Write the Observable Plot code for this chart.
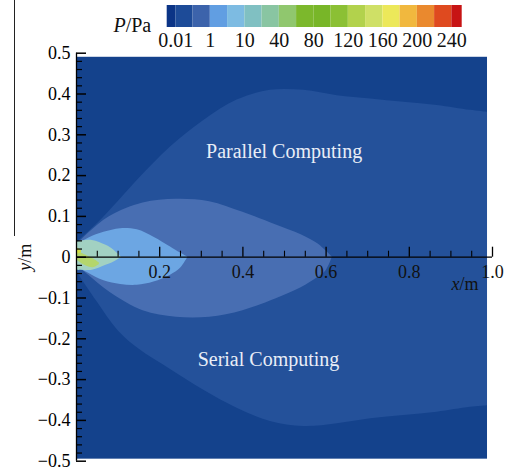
<!DOCTYPE html>
<html><head><meta charset="utf-8">
<script src="https://cdn.jsdelivr.net/npm/d3@7"></script>
<script src="https://cdn.jsdelivr.net/npm/@observablehq/plot@0.6"></script>
<style>
body{margin:0;background:#fff;}
#wrap{position:relative;width:516px;height:473px;overflow:hidden;background:#fff;}
#wrap svg{position:absolute;left:0;top:0;}
svg.legendsvg{background:transparent !important;}
.edge{position:absolute;left:13.5px;top:0;width:1.3px;height:236px;background:#222;z-index:5;}
</style></head><body><div id="wrap"><div class="edge"></div></div>
<script>
// ---- colour bar (P/Pa) ----
const levels = [0.01, 0.1, 1, 5, 10, 20, 40, 60, 80, 100, 120, 140, 160, 180, 200, 220, 240];
const levelLabels = ["0.01", "1", "10", "40", "80", "120", "160", "200", "240"];
const legendColors = ["#0b3486", "#1d4b98", "#3c63ab", "#619ee2", "#7dbbe2", "#80c0c2", "#89c5a2", "#90c76e",
  "#7cb82c", "#78b628", "#8bc034", "#b2d24c", "#cfe066", "#ece85a", "#f1b83e", "#ea892e", "#df4a1f", "#c71414"];

// ---- axes ----
const xTickValues = [0.2, 0.4, 0.6, 0.8, 1.0];
const xTickLabels = ["0.2", "0.4", "0.6", "0.8", "1.0"];
const yTickValues = [0.5, 0.4, 0.3, 0.2, 0.1, 0, -0.1, -0.2, -0.3, -0.4, -0.5];
const yTickLabels = ["0.5", "0.4", "0.3", "0.2", "0.1", "0", "\u22120.1", "\u22120.2", "\u22120.3", "\u22120.4", "\u22120.5"];

// ---- computed field extent ----
const fieldX = [0, 0.988];
const fieldY = [-0.495, 0.49];

// ---- contour bands (upper = Parallel Computing, lower = Serial Computing) ----
const band2X     = [0, 0.05, 0.10, 0.15, 0.226, 0.306, 0.386, 0.466, 0.546, 0.627, 0.707, 0.787, 0.867, 0.947, 0.988];
const band2Upper = [0.035, 0.082, 0.136, 0.192, 0.27, 0.335, 0.385, 0.409, 0.409, 0.396, 0.388, 0.38, 0.372, 0.36, 0.355];
const band2Lower = [-0.035, -0.11, -0.18, -0.225, -0.275, -0.326, -0.37, -0.403, -0.415, -0.408, -0.396, -0.388, -0.38, -0.368, -0.364];

const band3X     = [0, 0.03, 0.08, 0.16, 0.24, 0.32, 0.40, 0.48, 0.54, 0.58, 0.60, 0.615];
const band3Upper = [0.03, 0.06, 0.10, 0.133, 0.142, 0.136, 0.11, 0.079, 0.055, 0.033, 0.015, 0];
const band3Lower = [-0.02, -0.045, -0.086, -0.131, -0.147, -0.147, -0.131, -0.102, -0.075, -0.05, -0.033, 0];

const band4X     = [0, 0.03, 0.066, 0.106, 0.146, 0.186, 0.226, 0.25, 0.268];
const band4Upper = [0.029, 0.047, 0.061, 0.07, 0.067, 0.049, 0.025, 0.01, 0];
const band4Lower = [-0.024, -0.04, -0.058, -0.067, -0.069, -0.061, -0.044, -0.027, 0];

const band5X     = [0, 0.038, 0.071, 0.09, 0.108];
const band5Upper = [0.037, 0.041, 0.029, 0.017, 0];
const band5Lower = [-0.032, -0.032, -0.02, -0.012, 0];

const band6X     = [0, 0.02, 0.04, 0.055];
const band6Upper = [0.015, 0.006, -0.004, -0.014];
const band6Lower = [-0.006, -0.02, -0.026, -0.018];

const band7X     = [0, 0.012];
const band7Upper = [0.024, 0.016];
const band7Lower = [0.008, 0.01];

const bandColors = ["#14428c", "#24519a", "#486eb2", "#6ca6e3", "#a2d1c2", "#b4d66c", "#d2de44"];

const toRows = (xs, up, lo) => xs.map((x, i) => ({x, y1: lo[i], y2: up[i]}));
const bands = [
  toRows(band2X, band2Upper, band2Lower),
  toRows(band3X, band3Upper, band3Lower),
  toRows(band4X, band4Upper, band4Lower),
  toRows(band5X, band5Upper, band5Lower),
  toRows(band6X, band6Upper, band6Lower),
  toRows(band7X, band7Upper, band7Lower)
];

const W = 516, H = 473, ML = 76, MR = 24, MT = 52.7, MB = 12.3;
const frameW = W - ML - MR, frameH = H - MT - MB;
const y0px = frameH / 2;
const serif = "'Liberation Serif', 'Times New Roman', serif";

const xMinor = d3.range(0.05, 1.0001, 0.05).filter(v => xTickValues.every(t => Math.abs(t - v) > 1e-6));
const yMinor = d3.range(-0.5, 0.5001, 0.02).filter(v => yTickValues.every(t => Math.abs(t - v) > 1e-6));

const main = Plot.plot({
  width: W, height: H,
  marginLeft: ML, marginRight: MR, marginTop: MT, marginBottom: MB,
  style: {fontFamily: serif, fontSize: "18px", background: "white"},
  x: {domain: [0, 1], axis: null},
  y: {domain: [-0.5, 0.5], axis: null},
  marks: [
    Plot.rect([0], {x1: () => fieldX[0], x2: () => fieldX[1], y1: () => fieldY[0], y2: () => fieldY[1], fill: bandColors[0]}),
    ...bands.map((rows, k) => Plot.areaY(rows, {x: "x", y1: "y1", y2: "y2", fill: bandColors[k + 1], curve: "catmull-rom"})),
    Plot.text(["Parallel Computing"], {x: () => 0.499, y: () => 0.259, fill: "#e9eef7", fontSize: 20}),
    Plot.text(["Serial Computing"], {x: () => 0.4615, y: () => -0.251, fill: "#e9eef7", fontSize: 20}),
    // axis lines
    Plot.ruleX([0], {stroke: "black", strokeWidth: 1.3}),
    Plot.ruleY([0], {stroke: "black", strokeWidth: 1.3}),
    // y ticks (inward)
    Plot.tickY(yTickValues, {y: d => d, stroke: "black", strokeWidth: 1.5, insetRight: frameW - 10}),
    Plot.tickY(yMinor, {y: d => d, stroke: "black", strokeWidth: 1.2, insetRight: frameW - 6}),
    // x ticks (upward from y = 0)
    Plot.tickX(xTickValues, {x: d => d, stroke: "black", strokeWidth: 1.3, insetTop: y0px - 10, insetBottom: frameH - y0px}),
    Plot.tickX(xMinor, {x: d => d, stroke: "black", strokeWidth: 1.1, insetTop: y0px - 6, insetBottom: frameH - y0px}),
    // tick labels
    Plot.text(yTickValues, {y: d => d, frameAnchor: "left", dx: -6, textAnchor: "end", text: (d, i) => yTickLabels[i], fill: "black", fontSize: 18}),
    Plot.text(xTickValues, {x: d => d, y: () => 0, dy: 15, text: (d, i) => xTickLabels[i], fill: "#111", fontSize: 18}),
    Plot.text(["x/m"], {x: () => 1, y: () => 0, dx: -14, dy: 27, textAnchor: "end", fill: "#111", fontSize: 18}),
    Plot.text(["y/m"], {x: () => 0, y: () => 0, dx: -51, rotate: -90, fill: "#111", fontSize: 18})
  ]
});

const cells = legendColors.map((c, i) => ({i, color: c}));
const labelRows = levelLabels.map((t, j) => ({k: 2 * j, label: t, value: levels[2 * j]}));
const legend = Plot.plot({
  width: W, height: 50,
  marginLeft: 166.7, marginRight: 54.3, marginTop: 5, marginBottom: 23,
  style: {fontFamily: serif, fontSize: "20px", background: "transparent"},
  x: {domain: [-0.5, 16.6], axis: null},
  y: {domain: [0, 1], axis: null},
  marks: [
    Plot.rect(cells, {x1: d => d.i === 0 ? -0.5 : d.i - 1, x2: d => d.i === 17 ? 16.6 : d.i, y1: () => 0, y2: () => 1, fill: d => d.color}),
    Plot.text(labelRows, {x: "k", y: () => 0, dy: 13, text: "label", fill: "#111", fontSize: 20}),
    Plot.text(["P/Pa"], {x: () => -0.5, y: () => 0.1, dx: -16, textAnchor: "end", fill: "#111", fontSize: 20})
  ]
});
legend.classList.add("legendsvg");

function italicize(svg) {
  d3.select(svg).selectAll("text").each(function () {
    const t = this.textContent;
    if (t === "P/Pa" || t === "x/m" || t === "y/m") {
      const sel = d3.select(this);
      sel.text(null);
      sel.append("tspan").attr("font-style", "italic").text(t[0]);
      sel.append("tspan").text(t.slice(1));
    }
  });
}
italicize(main); italicize(legend);

const wrap = document.getElementById("wrap");
wrap.appendChild(main);
wrap.appendChild(legend);
</script></body></html>
